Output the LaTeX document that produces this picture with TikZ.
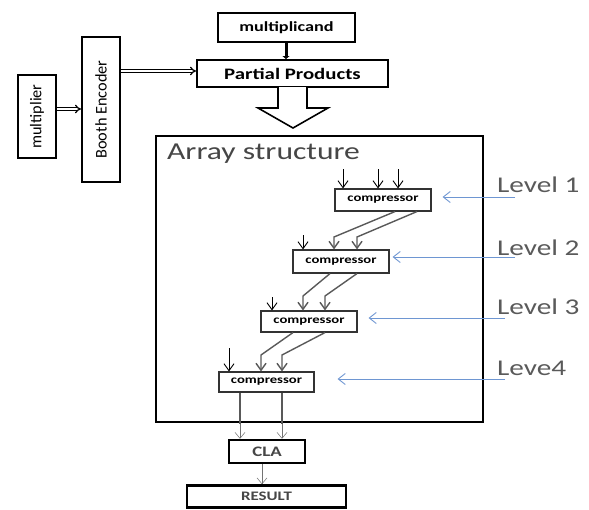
\documentclass[tikz,border=0pt]{standalone}
\usepackage{fontspec}
\setmainfont{Carlito}[FakeStretch=1.3]
\newfontfamily\rotfont{Carlito}
\usetikzlibrary{arrows.meta}
\definecolor{lvlblue}{RGB}{110,150,210}
\definecolor{txtgray}{RGB}{70,70,70}
\definecolor{lvlgray}{RGB}{90,90,90}
\tikzset{
  box/.style={draw=black, line width=2pt, inner sep=0pt, fill=white},
  cbox/.style={draw=black!80, line width=1.1pt, inner sep=0pt, fill=white,
    font=\fontsize{11.3}{13}\selectfont\bfseries},
  inarr/.style={draw=black, line width=0.9pt, -{Straight Barb[length=7pt,width=10pt]}},
  wire/.style={draw=black!65, line width=1.4pt, -{Straight Barb[length=7pt,width=10pt]}},
  wireplain/.style={draw=black!65, line width=1.4pt},
  thinarr/.style={draw=black!55, line width=0.5pt, -{Straight Barb[length=6pt,width=10pt]}},
  lvlarr/.style={draw=lvlblue, line width=0.9pt, -{Straight Barb[length=7pt,width=11pt]}},
  lvl/.style={anchor=west, text=lvlgray, inner sep=0pt, font=\fontsize{22.5}{26}\selectfont},
  dbl/.style={draw=black, double=white, double distance=1.6pt, line width=1.2pt, -{Implies}},
}
\begin{document}
\begin{tikzpicture}[x=1pt,y=-1pt]
\useasboundingbox (0,0) rectangle (589,509);

% top boxes
\node[box, minimum width=137pt, minimum height=29pt,
  font=\fontsize{14}{16}\selectfont\bfseries] (mc) at (286.5,27.5) {multiplicand};
\node[box, minimum width=191pt, minimum height=27pt,
  font=\fontsize{16}{18}\selectfont\bfseries] (pp) at (292.5,73.5) {Partial Products};
\node[box, rotate=90, minimum width=145pt, minimum height=38pt,
  font=\rotfont\fontsize{16.3}{18}\selectfont] (booth) at (101,109.5) {Booth Encoder};
\node[box, rotate=90, minimum width=83pt, minimum height=38pt,
  font=\rotfont\fontsize{16.3}{18}\selectfont] (mult) at (37,116.5) {multiplier};

% connectors at top
\draw[line width=3pt, -{Triangle[length=3pt,width=7pt]}] (mc.south -| 286,0) -- (pp.north -| 286,0);
\draw[dbl] (mult.south |- 0,109) -- (booth.north |- 0,109);
\draw[dbl] (booth.south |- 0,71) -- (pp.west |- 0,71);

% array structure box
\node[draw=black, line width=2.6pt, minimum width=327pt, minimum height=286pt, inner sep=0pt]
  (arr) at (319.5,279) {};
\node[anchor=west, inner sep=0pt, text=txtgray, font=\fontsize{24.3}{28}\selectfont]
  (arrt) at (167,154) {Array structure};

% hollow block arrow
\draw[line width=1.6pt, fill=white, line join=miter]
  (278,87) -- (278,108) -- (258,108) -- (293,128) -- (328,108) -- (307,108) -- (307,87);

% compressors
\node[cbox, minimum width=96pt, minimum height=22pt] (c1) at (383,200) {compressor};
\node[cbox, minimum width=96pt, minimum height=23pt] (c2) at (341,261.5) {compressor};
\node[cbox, minimum width=96pt, minimum height=21pt] (c3) at (309,321.5) {compressor};
\node[cbox, minimum width=95pt, minimum height=20pt] (c4) at (266.5,382) {compressor};

% inputs level 1
\draw[inarr] (343,169) -- (c1.north -| 343,0);
\draw[inarr] (378,169) -- (c1.north -| 378,0);
\draw[inarr] (398,169) -- (c1.north -| 398,0);
% level 1 -> level 2
\draw[inarr] (303,235) -- (c2.north -| 303,0);
\draw[wire] (c1.south -| 395,0) -- (334,237) -- (c2.north -| 334,0);
\draw[wire] (c1.south -| 417,0) -- (357,237) -- (c2.north -| 357,0);
% level 2 -> level 3
\draw[inarr] (272,297) -- (c3.north -| 272,0);
\draw[wire] (c2.south -| 330,0) -- (303,296) -- (c3.north -| 303,0);
\draw[wire] (c2.south -| 357,0) -- (325,296) -- (c3.north -| 325,0);
% level 3 -> level 4
\draw[inarr] (229,348) -- (c4.north -| 229,0);
\draw[wire] (c3.south -| 293,0) -- (261,355) -- (c4.north -| 261,0);
\draw[wire] (c3.south -| 325,0) -- (282,355) -- (c4.north -| 282,0);

% CLA and RESULT
\node[box, line width=2.5pt, minimum width=76pt, minimum height=23pt, text=txtgray,
  font=\fontsize{14.5}{16}\selectfont\bfseries] (cla) at (267,451.5) {CLA};
\node[box, line width=2.5pt, minimum width=159pt, minimum height=22pt, text=txtgray,
  font=\fontsize{13}{15}\selectfont\bfseries] (res) at (266.5,496.5) {RESULT};

\coordinate (o1) at (240,424);
\coordinate (o2) at (282,424);
\draw[wireplain] (c4.south -| 240,0) -- (o1);
\draw[wireplain] (c4.south -| 282,0) -- (o2);
\draw[thinarr] (o1) -- (cla.north -| 240,0);
\draw[thinarr] (o2) -- (cla.north -| 282,0);
\draw[thinarr] (cla.south -| 262,0) -- (res.north -| 262,0);

% level labels and arrows
\node[lvl] (l1) at (497,185) {Level 1};
\node[lvl] (l2) at (497,248) {Level 2};
\node[lvl] (l3) at (497,307) {Level 3};
\node[lvl] (l4) at (497,368) {Leve4};
\coordinate (a1) at (515,197);
\coordinate (a2) at (515,257);
\coordinate (a3) at (505,318);
\coordinate (a4) at (505,379);
\draw[lvlarr] (a1) -- ([xshift=11pt]c1.east |- a1);
\draw[lvlarr] (a2) -- ([xshift=3pt]c2.east |- a2);
\draw[lvlarr] (a3) -- ([xshift=11pt]c3.east |- a3);
\draw[lvlarr] (a4) -- ([xshift=23pt]c4.east |- a4);
\end{tikzpicture}
\end{document}
